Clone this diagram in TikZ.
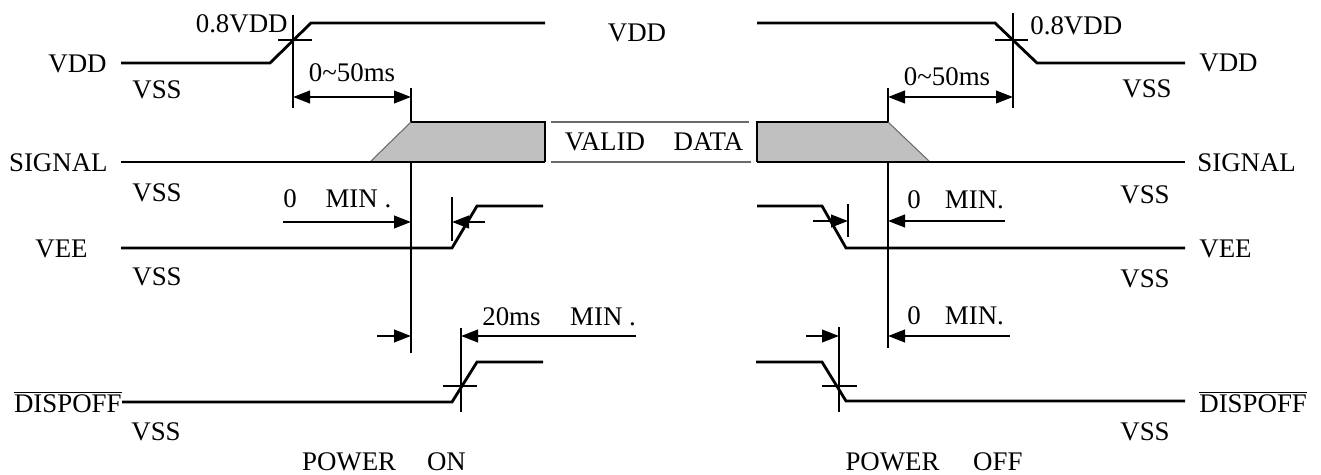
\documentclass[tikz,border=0pt]{standalone}
\usepackage{fontspec}
\setmainfont{Liberation Serif}
\usetikzlibrary{arrows.meta}
\definecolor{datagray}{HTML}{C0C0C0}
\definecolor{edgegray}{HTML}{6A6A6A}
\tikzset{
  wave/.style={line width=1.6pt, line join=miter},
  marker/.style={line width=1.4pt},
  dimarrow/.style={line width=1.4pt, -{Triangle[length=3.4mm,width=2.5mm]}},
  dimboth/.style={line width=1.4pt, {Triangle[length=3.4mm,width=2.5mm]}-{Triangle[length=3.4mm,width=2.5mm]}},
  databox/.style={fill=datagray, draw=none},
  dataedge/.style={draw=edgegray, line width=0.6pt},
  lbl/.style={font=\fontsize{15.3}{18}\selectfont, inner sep=0pt}
}

\begin{document}
\begin{tikzpicture}[x=0.02cm, y=-0.02cm]
\useasboundingbox (0,0) rectangle (1321,475);

% marker lines of power on
\coordinate (onTop) at (411,88);
\coordinate (onBot) at (411,353);
\draw[marker] (onTop) -- (onBot);
\draw[marker] (293,15) -- (293,108);
\draw[marker] (278,40) -- (312,40);
\draw[marker] (452,197) -- (452,241);
\draw[marker] (461,328) -- (461,412);
\draw[marker] (443,386) -- (477,386);

% marker lines of power off
\coordinate (offTop) at (888,88);
\coordinate (offBot) at (888,348);
\draw[marker] (offTop) -- (offBot);
\draw[marker] (1013,13) -- (1013,108);
\draw[marker] (995,40) -- (1028,40);
\draw[marker] (848,204) -- (848,237);
\draw[marker] (839,327) -- (839,412);
\draw[marker] (822,386) -- (857,386);

% signal data boxes
\fill[databox] (370,162) -- (411,122) -- (545,122) -- (545,162) -- cycle;
\draw[dataedge] (370,162) -- (411,122);
\draw[wave] (411,122) -- (545,122) -- (545,162);
\fill[databox] (757,122) -- (888,122) -- (930,162) -- (757,162) -- cycle;
\draw[dataedge] (888,122) -- (930,162);
\draw[wave] (888,122) -- (757,122) -- (757,162);
\draw[dataedge] (551,122) -- (749,122);
\draw[dataedge] (551,162) -- (751,162);
\node[lbl, anchor=base] (valid) at (654,151) {VALID\hspace{1.07em}DATA};

% waveforms
\draw[wave] (121,63) -- (270,63) -- (311,23) -- (545,23);
\draw[wave] (757,23) -- (995,23) -- (1037,63) -- (1185,63);
\draw[wave] (121,162) -- (545,162);
\draw[wave] (757,162) -- (1185,162);
\draw[wave] (121,248) -- (452,248) -- (477,206) -- (543,206);
\draw[wave] (757,206) -- (822,206) -- (846,248) -- (1185,248);
\draw[wave] (122,402) -- (452,402) -- (477,362) -- (543,362);
\draw[wave] (756,362) -- (822,362) -- (846,401) -- (1185,401);

% timing arrows
\coordinate (onRise) at (293,97);
\coordinate (offFall) at (1013,97);
\draw[dimboth] (onRise) -- (onTop |- onRise);
\draw[dimboth] (offTop |- offFall) -- (offFall);
\coordinate (veeOnL) at (283,222);
\coordinate (veeOnR) at (485,222);
\draw[dimarrow] (veeOnL) -- (onTop |- veeOnL);
\draw[dimarrow] (veeOnR) -- (452,222);
\coordinate (dspOnL) at (377,336);
\coordinate (dspOnR) at (636,336);
\draw[dimarrow] (dspOnL) -- (onTop |- dspOnL);
\draw[dimarrow] (dspOnR) -- (461,336);
\coordinate (veeOffL) at (813,221);
\coordinate (veeOffR) at (1005,221);
\draw[dimarrow] (veeOffL) -- (848,221);
\draw[dimarrow] (veeOffR) -- (offTop |- veeOffR);
\coordinate (dspOffL) at (806,336);
\coordinate (dspOffR) at (1010,336);
\draw[dimarrow] (dspOffL) -- (839,336);
\draw[dimarrow] (dspOffR) -- (offTop |- dspOffR);

% timing texts
\node[lbl, anchor=base east] (vddOn) at (288,33) {0.8VDD};
\node[lbl, anchor=base west] (vddOff) at (1030,35) {0.8VDD};
\node[lbl, anchor=base] (tOn) at (352,82) {0\textasciitilde50ms};
\node[lbl, anchor=base] (tOff) at (947,86) {0\textasciitilde50ms};
\node[lbl, anchor=base west] (veeMinOn) at (283,208) {0\hspace{1.07em}MIN .};
\node[lbl, anchor=base west] (veeMinOff) at (907,209) {0\hspace{0.9em}MIN.};
\node[lbl, anchor=base west] (dspMinOn) at (482,326) {20ms\hspace{1.1em}MIN .};
\node[lbl, anchor=base west] (dspMinOff) at (907,325) {0\hspace{0.9em}MIN.};

% left labels
\node[lbl, anchor=east] (vddL) at (107,64) {VDD};
\node[lbl] (vss1L) at (157,90) {VSS};
\node[lbl, anchor=east] (sigL) at (108,163) {SIGNAL};
\node[lbl] (vss2L) at (157,193) {VSS};
\node[lbl, anchor=east] (veeL) at (88,249) {VEE};
\node[lbl] (vss3L) at (157,277) {VSS};
\node[lbl, anchor=east] (dspL) at (122,402) {$\overline{\mbox{DISPOFF}}$};
\node[lbl] (vss4L) at (156,432) {VSS};
\node[lbl] (pwrOn) at (384,462) {POWER\hspace{1.15em}ON};

% middle and right labels
\node[lbl] (vddMid) at (637,33) {VDD};
\node[lbl, anchor=west] (vddR) at (1199,63) {VDD};
\node[lbl] (vss1R) at (1147,89) {VSS};
\node[lbl, anchor=west] (sigR) at (1197,163) {SIGNAL};
\node[lbl] (vss2R) at (1145,195) {VSS};
\node[lbl, anchor=west] (veeR) at (1199,249) {VEE};
\node[lbl] (vss3R) at (1145,279) {VSS};
\node[lbl, anchor=west] (dspR) at (1199,402) {$\overline{\mbox{DISPOFF}}$};
\node[lbl] (vss4R) at (1145,432) {VSS};
\node[lbl] (pwrOff) at (934,462) {POWER\hspace{1.25em}OFF};
\end{tikzpicture}
\end{document}
